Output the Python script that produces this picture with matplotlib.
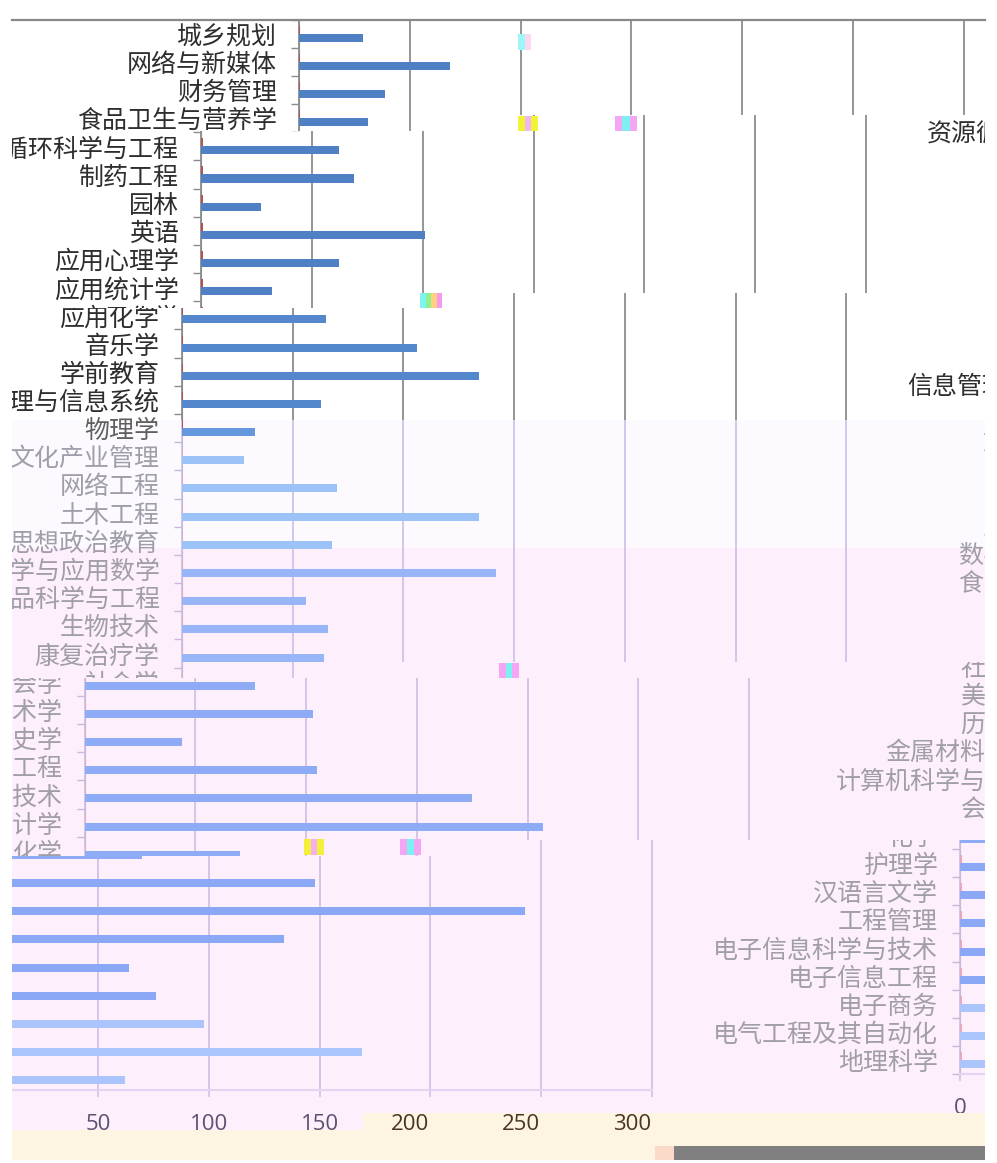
import numpy as np
import matplotlib
matplotlib.use('Agg')
import matplotlib.pyplot as plt
from matplotlib.patches import Rectangle
from matplotlib.lines import Line2D
from matplotlib.transforms import Bbox, TransformedBbox

plt.rcParams['font.family'] = ['Noto Sans CJK SC', 'DejaVu Sans']

# 专业名称（自上而下）
majors = ['城乡规划', '网络与新媒体', '财务管理', '食品卫生与营养学',
          '资源循环科学与工程', '制药工程', '园林', '英语', '应用心理学', '应用统计学',
          '应用化学', '音乐学', '学前教育', '信息管理与信息系统', '物理学',
          '文化产业管理', '网络工程', '土木工程', '思想政治教育', '数学与应用数学',
          '食品科学与工程', '生物技术', '康复治疗学', '社会学', '美术学', '历史学',
          '金属材料工程', '计算机科学与技术', '会计学', '化学', '护理学', '汉语言文学',
          '工程管理', '电子信息科学与技术', '电子信息工程', '电子商务',
          '电气工程及其自动化', '地理科学']
# 第一个系列（蓝色）
counts = [29, 68, 39, 31, 62, 69, 27, 101, 62, 32,
          65, 106, 134, 63, 33, 28, 70, 134, 68, 142,
          56, 66, 64, 77, 103, 44, 105, 175, 207, 70,
          148, 243, 134, 64, 76, 98, 169, 62]
# 第二个系列（红色，几乎为零）
counts_b = [0.6, 0.6, 0.6, 0.6, 0.6, 0.6, 0.6, 0.6, 0.6, 0.6,
            0.6, 0.6, 0.6, 0.6, 0.6, 0.6, 0.6, 0.6, 0.6, 0.6,
            0.6, 0.6, 0.6, 0.6, 0.6, 0.6, 0.6, 0.6, 0.6, 0.6,
            0.6, 0.6, 0.6, 0.6, 0.6, 0.6, 0.6, 0.6]
x_ticks = [0, 50, 100, 150, 200, 250, 300]

# 颜色（按行）
bar_colors = (['#4f80c3'] * 10 + ['#5487cc'] * 4 + ['#6497dc'] + ['#9cc3f8'] * 4
              + ['#98b5f8'] * 4 + ['#8eabf6'] * 7 + ['#8aa8f5'] * 5 + ['#a9c5fc'] * 3)
small_colors = ['#b5524f'] * 15 + ['#e9a9bd'] * 23
label_colors = ['#2e2e2e'] * 14 + ['#606060'] + ['#a09ea8'] * 23

W, H = 997, 1163
AX_TOP, AX_BOTTOM = 19.5, 1090.4
PLOT_W = 664.5

styles = {
    'dark': dict(grid='#8c8c8c', axis='#8c8c8c', bottom='#8c8c8c', xlabel='#5b5272'),
    'light': dict(grid='#cfc2e8', axis='#c6b8da', bottom='#e4d4f4', xlabel='#5b5272'),
    'beige': dict(grid='#cfc2e8', axis='#c6b8da', bottom='#e4d4f4', xlabel='#4a3524'),
}

fig = plt.figure(figsize=(W / 100, H / 100), dpi=100)
fig.patch.set_facecolor('white')


def fig_rect(x0, y0, x1, y1, color, z):
    fig.add_artist(Rectangle((x0 / W, 1 - y1 / H), (x1 - x0) / W, (y1 - y0) / H,
                             transform=fig.transFigure, facecolor=color,
                             edgecolor='none', zorder=z))


# 背景色块
fig_rect(12, 420, 985, 548, '#fcfaff', -10)
fig_rect(12, 548, 985, 1113, '#fdf0fc', -10)
fig_rect(12, 1113, 363, 1130, '#fdf0fc', -10)
fig_rect(363, 1113, 985, 1133, '#fef4e2', -10)
fig_rect(12, 1130, 985, 1160, '#fef4e2', -10)
fig_rect(674, 1146, 985, 1160, '#808080', -9)
fig_rect(655, 1146, 674, 1160, '#fbd9c8', -9)


def draw_copy(origin, dy, rect, style):
    st = styles[style]
    ax = fig.add_axes([origin / W, 1 - (AX_BOTTOM + dy) / H, PLOT_W / W,
                       (AX_BOTTOM - AX_TOP) / H])
    ax.patch.set_visible(False)
    y = np.arange(len(majors))
    ax.barh(y + 0.142, counts, height=0.284, color=bar_colors, zorder=3)
    ax.barh(y - 0.142, counts_b, height=0.284, color=small_colors, zorder=3)
    ax.set_xlim(0, 300)
    ax.set_ylim(len(majors) - 0.5, -0.5)
    ax.set_xticks(x_ticks)
    ax.set_xticklabels([str(t) for t in x_ticks], fontsize=16,
                       family=['Open Sans', 'DejaVu Sans'], color=st['xlabel'])
    ax.set_yticks(y)
    ax.set_yticklabels(majors, fontsize=18)
    for lab, c in zip(ax.get_yticklabels(), label_colors):
        lab.set_color(c)
    ax.set_yticks(np.arange(len(majors) + 1) - 0.5, minor=True)
    ax.tick_params(axis='y', which='major', length=0, pad=16)
    ax.tick_params(axis='y', which='minor', length=5.8, width=1,
                   color=st['axis'], direction='out')
    ax.tick_params(axis='x', which='major', length=5, width=1.2,
                   color=st['grid'], pad=12)
    ax.grid(axis='x', color=st['grid'], linewidth=1.3)
    ax.set_axisbelow(True)
    ax.spines['top'].set_visible(False)
    ax.spines['right'].set_visible(False)
    ax.spines['left'].set_color(st['axis'])
    ax.spines['bottom'].set_color(st['bottom'])
    ax.spines['bottom'].set_linewidth(1.5)

    x0, y0, x1, y1 = rect
    cb = TransformedBbox(Bbox.from_extents(x0 / W, 1 - y1 / H, x1 / W, 1 - y0 / H),
                         fig.transFigure)
    arts = list(ax.patches) + list(ax.spines.values())
    for axis in (ax.xaxis, ax.yaxis):
        for t in axis.get_major_ticks() + axis.get_minor_ticks():
            arts += [t.tick1line, t.tick2line, t.gridline, t.label1, t.label2]
    for a in arts:
        a.set_clip_box(cb)
        a.set_clip_on(True)
    return ax, cb


# 错位的各个条带：(轴原点 x, 垂直偏移, 可见区域, 样式)
copies = [
    (299, 0, (12, 20, 520, 131), 'dark'),
    (299, 0, (520, 20, 985, 115), 'dark'),
    (201.25, 0, (12, 131, 420, 308), 'dark'),
    (201.25, 0, (420, 131, 520, 293), 'dark'),
    (201.25, 0, (520, 115, 985, 293), 'dark'),
    (1174.25, -16, (520, 115, 985, 293), 'dark'),
    (181.8, 0, (12, 308, 420, 420), 'dark'),
    (181.8, 0, (420, 293, 985, 420), 'dark'),
    (1154.8, -16, (420, 293, 985, 420), 'dark'),
    (181.8, 0, (12, 420, 400, 678), 'light'),
    (181.8, 0, (400, 420, 985, 662), 'light'),
    (1154.8, -16, (400, 420, 985, 662), 'light'),
    (84.7, 0, (12, 678, 480, 856), 'light'),
    (84.7, 0, (480, 678, 985, 840), 'light'),
    (1057.7, -16, (800, 662, 985, 840), 'light'),
    (-12.75, 0, (12, 856, 363, 1130), 'light'),
    (-12.75, 0, (363, 856, 480, 1113), 'light'),
    (-12.75, 0, (480, 840, 985, 1113), 'light'),
    (960.25, -16, (480, 840, 985, 1113), 'light'),
    (-32.75, 0, (363, 1113, 985, 1133), 'beige'),
]
drawn = [draw_copy(origin, dy, rect, style) for origin, dy, rect, style in copies]

# 顶部边框线
fig.add_artist(Line2D([12 / W, 985 / W], [1 - 20 / H, 1 - 20 / H],
                      transform=fig.transFigure, color='#888888', lw=1.6, zorder=5))

# 解码错误留下的小色块
artifacts = [
    (518, 34, 538, 50, ['#9ff6f6', '#fdd6f0', '#ffffff']),
    (518, 116, 538, 131, ['#f3f23a', '#f2b6f2', '#f3f23a']),
    (615, 116, 637, 131, ['#f5a6f2', '#7ff0f2', '#f5a6f2']),
    (420, 293, 442, 308, ['#7ff3ef', '#8cf28f', '#ffd080', '#f59af0']),
    (499, 663, 519, 678, ['#f5a6f2', '#7ff0f2', '#f5a6f2']),
    (304, 839, 324, 855, ['#f4ef3a', '#f5b0f0', '#f4ef3a']),
    (400, 839, 421, 855, ['#f5a6f2', '#7ff0f2', '#f5a6f2']),
]
for x0, y0, x1, y1, cols in artifacts:
    step = (x1 - x0) / len(cols)
    for k, c in enumerate(cols):
        fig_rect(x0 + k * step, y0, x0 + (k + 1) * step, y1, c, 8)

# 隐藏完全落在可见区域之外的刻度文字
fig.canvas.draw()
renderer = fig.canvas.get_renderer()
for ax, cb in drawn:
    for lab in ax.get_xticklabels() + ax.get_yticklabels():
        if not lab.get_window_extent(renderer).overlaps(cb):
            lab.set_visible(False)

fig.savefig('out.png', dpi=100)
